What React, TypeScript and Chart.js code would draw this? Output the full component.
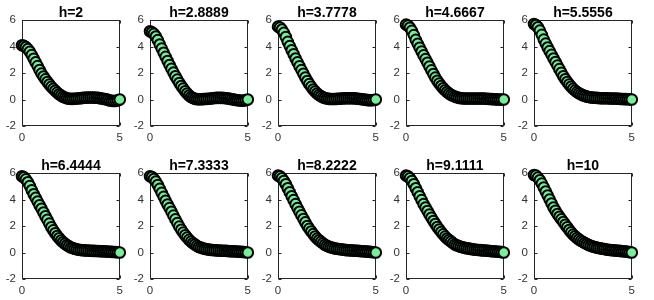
import React, { useEffect, useRef } from "react";
import { Chart, registerables } from "chart.js";

Chart.register(...registerables);

const TITLES = ["h=2", "h=2.8889", "h=3.7778", "h=4.6667", "h=5.5556", "h=6.4444", "h=7.3333", "h=8.2222", "h=9.1111", "h=10"];

const X_VALUES = [0, 0.1, 0.2, 0.3, 0.4, 0.5, 0.6, 0.7, 0.8, 0.9, 1.0, 1.1, 1.2, 1.3, 1.4, 1.5, 1.6, 1.7, 1.8, 1.9, 2.0, 2.1, 2.2, 2.3, 2.4, 2.5, 2.6, 2.7, 2.8, 2.9, 3.0, 3.1, 3.2, 3.3, 3.4, 3.5, 3.6, 3.7, 3.8, 3.9, 4.0, 4.1, 4.2, 4.3, 4.4, 4.5, 4.6, 4.7, 4.8, 4.9, 5.0];

const Y_H1 = [4.1, 4.05, 3.95, 3.8, 3.6, 3.35, 3.08, 2.8, 2.52, 2.23, 1.95, 1.73, 1.52, 1.32, 1.13, 0.95, 0.8, 0.66, 0.52, 0.4, 0.3, 0.21, 0.14, 0.09, 0.06, 0.05, 0.05, 0.06, 0.07, 0.09, 0.1, 0.12, 0.13, 0.14, 0.15, 0.15, 0.15, 0.14, 0.13, 0.12, 0.1, 0.07, 0.04, 0.01, -0.03, -0.08, -0.1, -0.11, -0.1, -0.06, 0];
const Y_H2 = [5.15, 5.08, 4.95, 4.75, 4.48, 4.15, 3.84, 3.53, 3.22, 2.91, 2.6, 2.31, 2.03, 1.76, 1.5, 1.25, 1.02, 0.82, 0.62, 0.45, 0.3, 0.19, 0.11, 0.05, 0.03, 0.02, 0.02, 0.03, 0.04, 0.05, 0.06, 0.08, 0.1, 0.11, 0.12, 0.12, 0.12, 0.12, 0.11, 0.1, 0.08, 0.05, 0.02, -0.01, -0.04, -0.06, -0.08, -0.09, -0.08, -0.05, 0];
const Y_H3 = [5.5, 5.43, 5.27, 5.03, 4.72, 4.35, 4.03, 3.72, 3.41, 3.1, 2.8, 2.51, 2.22, 1.94, 1.66, 1.4, 1.16, 0.95, 0.76, 0.6, 0.45, 0.34, 0.24, 0.16, 0.11, 0.07, 0.05, 0.04, 0.04, 0.04, 0.05, 0.06, 0.07, 0.08, 0.09, 0.1, 0.1, 0.1, 0.1, 0.09, 0.08, 0.06, 0.04, 0.02, 0.0, -0.03, -0.05, -0.06, -0.06, -0.04, 0];
const Y_H4 = [5.65, 5.58, 5.42, 5.18, 4.86, 4.5, 4.2, 3.9, 3.62, 3.33, 3.05, 2.77, 2.49, 2.2, 1.92, 1.65, 1.42, 1.21, 1.02, 0.85, 0.7, 0.57, 0.45, 0.36, 0.28, 0.22, 0.17, 0.13, 0.1, 0.09, 0.08, 0.08, 0.08, 0.08, 0.08, 0.08, 0.08, 0.08, 0.08, 0.07, 0.07, 0.06, 0.05, 0.04, 0.03, 0.02, 0.01, 0.0, 0.0, 0.0, 0];
const Y_H5 = [5.7, 5.62, 5.45, 5.2, 4.88, 4.52, 4.22, 3.93, 3.65, 3.37, 3.1, 2.83, 2.56, 2.29, 2.02, 1.76, 1.53, 1.32, 1.13, 0.96, 0.8, 0.67, 0.56, 0.47, 0.39, 0.32, 0.27, 0.22, 0.19, 0.16, 0.14, 0.13, 0.12, 0.11, 0.1, 0.1, 0.1, 0.09, 0.09, 0.08, 0.08, 0.07, 0.07, 0.06, 0.05, 0.04, 0.03, 0.03, 0.02, 0.01, 0];
const Y_H6 = [5.75, 5.68, 5.52, 5.3, 5.02, 4.7, 4.4, 4.12, 3.84, 3.57, 3.3, 3.02, 2.74, 2.46, 2.18, 1.9, 1.67, 1.45, 1.25, 1.07, 0.9, 0.77, 0.66, 0.55, 0.46, 0.38, 0.33, 0.28, 0.24, 0.21, 0.19, 0.17, 0.16, 0.15, 0.14, 0.13, 0.12, 0.12, 0.11, 0.11, 0.1, 0.09, 0.09, 0.08, 0.07, 0.06, 0.05, 0.04, 0.03, 0.02, 0];
const Y_H7 = [5.75, 5.7, 5.55, 5.35, 5.1, 4.8, 4.5, 4.2, 3.9, 3.62, 3.35, 3.07, 2.78, 2.5, 2.22, 1.95, 1.72, 1.5, 1.3, 1.12, 0.95, 0.82, 0.7, 0.6, 0.5, 0.42, 0.37, 0.32, 0.28, 0.25, 0.22, 0.2, 0.19, 0.17, 0.16, 0.15, 0.14, 0.13, 0.13, 0.12, 0.11, 0.1, 0.1, 0.09, 0.08, 0.07, 0.06, 0.05, 0.04, 0.02, 0];
const Y_H8 = [5.8, 5.75, 5.6, 5.4, 5.15, 4.85, 4.55, 4.25, 3.95, 3.65, 3.35, 3.07, 2.8, 2.53, 2.27, 2.0, 1.78, 1.58, 1.39, 1.21, 1.05, 0.92, 0.8, 0.69, 0.59, 0.5, 0.44, 0.39, 0.35, 0.31, 0.28, 0.26, 0.24, 0.22, 0.2, 0.18, 0.17, 0.16, 0.15, 0.14, 0.13, 0.12, 0.11, 0.1, 0.09, 0.08, 0.07, 0.05, 0.04, 0.02, 0];
const Y_H9 = [5.8, 5.75, 5.6, 5.4, 5.15, 4.85, 4.55, 4.25, 3.95, 3.65, 3.4, 3.13, 2.87, 2.62, 2.38, 2.15, 1.93, 1.73, 1.54, 1.37, 1.2, 1.06, 0.94, 0.83, 0.71, 0.6, 0.54, 0.48, 0.43, 0.39, 0.35, 0.32, 0.29, 0.27, 0.24, 0.22, 0.21, 0.19, 0.18, 0.16, 0.15, 0.14, 0.13, 0.11, 0.1, 0.09, 0.08, 0.06, 0.05, 0.03, 0];
const Y_H10 = [5.85, 5.8, 5.65, 5.45, 5.2, 4.9, 4.6, 4.3, 4.0, 3.7, 3.4, 3.15, 2.9, 2.7, 2.5, 2.3, 2.1, 1.9, 1.7, 1.52, 1.35, 1.22, 1.1, 0.98, 0.88, 0.8, 0.72, 0.64, 0.57, 0.51, 0.45, 0.41, 0.37, 0.34, 0.31, 0.28, 0.26, 0.23, 0.21, 0.19, 0.17, 0.16, 0.15, 0.13, 0.12, 0.1, 0.09, 0.07, 0.05, 0.03, 0];

const SERIES = [Y_H1, Y_H2, Y_H3, Y_H4, Y_H5, Y_H6, Y_H7, Y_H8, Y_H9, Y_H10];

const X_TICKS = [0, 5];
const Y_TICKS = [-2, 0, 2, 4, 6];

const FONT = "'Liberation Sans', Arial, Helvetica, sans-serif";
const GREEN = "#74f09b";
const AXIS = "#262626";
const TICK_COLOR = "#333333";

const boxPlugin = {
  id: "octaveBox",
  beforeDatasetsDraw(chart: any) {
    const { ctx, chartArea, scales } = chart;
    const l = Math.round(chartArea.left) + 0.5;
    const r = Math.round(chartArea.right) - 0.5;
    const t = Math.round(chartArea.top) + 0.5;
    const b = Math.round(chartArea.bottom) - 0.5;
    ctx.save();
    ctx.strokeStyle = AXIS;
    ctx.lineWidth = 1;
    ctx.strokeRect(l, t, r - l, b - t);
    ctx.beginPath();
    for (const v of Y_TICKS) {
      const py = Math.round(scales.y.getPixelForValue(v)) + 0.5;
      ctx.moveTo(l, py);
      ctx.lineTo(l + 3, py);
      ctx.moveTo(r, py);
      ctx.lineTo(r - 3, py);
    }
    for (const v of X_TICKS) {
      const px = Math.round(scales.x.getPixelForValue(v)) + 0.5;
      ctx.moveTo(px, b);
      ctx.lineTo(px, b - 3);
      ctx.moveTo(px, t);
      ctx.lineTo(px, t + 3);
    }
    ctx.stroke();
    ctx.restore();
  },
  afterDraw(chart: any) {
    const { ctx, chartArea } = chart;
    const title = chart.options.plugins.panelTitle?.text ?? "";
    ctx.save();
    ctx.fillStyle = "#000000";
    ctx.font = `bold 14px ${FONT}`;
    ctx.textAlign = "center";
    ctx.textBaseline = "alphabetic";
    ctx.fillText(title, (chartArea.left + chartArea.right) / 2, chartArea.top - 3.5);
    ctx.restore();
  },
};

function Panel({ title, ys, left, top }: { title: string; ys: number[]; left: number; top: number }) {
  const ref = useRef<HTMLCanvasElement>(null);
  useEffect(() => {
    if (!ref.current) return;
    const chart = new Chart(ref.current, {
      type: "scatter",
      data: {
        datasets: [
          {
            data: X_VALUES.map((x, i) => ({ x, y: ys[i] })),
            pointRadius: 5.3,
            pointHoverRadius: 5.3,
            pointBorderWidth: 2,
            pointBackgroundColor: GREEN,
            pointBorderColor: "#000000",
            showLine: false,
            clip: false as any,
          } as any,
        ],
      },
      options: {
        responsive: false,
        animation: false,
        events: [],
        layout: { padding: { left: 0, right: 8, top: 20, bottom: 0 } },
        plugins: {
          legend: { display: false },
          tooltip: { enabled: false },
          title: { display: false },
          panelTitle: { text: title },
        },
        scales: {
          x: {
            type: "linear",
            min: 0,
            max: 5,
            afterBuildTicks: (s: any) => {
              s.ticks = X_TICKS.map((v) => ({ value: v }));
            },
            afterFit: (s: any) => {
              s.height = 24;
            },
            grid: { display: false, drawTicks: false },
            border: { display: false },
            ticks: { padding: 5, color: TICK_COLOR, font: { family: FONT, size: 11.5 }, maxRotation: 0, autoSkip: false },
          },
          y: {
            type: "linear",
            min: -2,
            max: 6,
            afterBuildTicks: (s: any) => {
              s.ticks = Y_TICKS.map((v) => ({ value: v }));
            },
            afterFit: (s: any) => {
              s.width = 22;
            },
            grid: { display: false, drawTicks: false },
            border: { display: false },
            ticks: { padding: 6, color: TICK_COLOR, font: { family: FONT, size: 11.5 }, autoSkip: false },
          },
        },
      } as any,
      plugins: [boxPlugin],
    });
    return () => chart.destroy();
  }, [title, ys]);
  return (
    <canvas
      ref={ref}
      width={128}
      height={150}
      style={{ position: "absolute", left, top, width: 128, height: 150 }}
    />
  );
}

export default function App() {
  return (
    <div style={{ position: "fixed", left: 0, top: 0, width: 654, height: 300, background: "#ffffff" }}>
      {TITLES.map((t, i) => (
        <Panel key={t} title={t} ys={SERIES[i]} left={(i % 5) * 128} top={i < 5 ? 0 : 153} />
      ))}
    </div>
  );
}
